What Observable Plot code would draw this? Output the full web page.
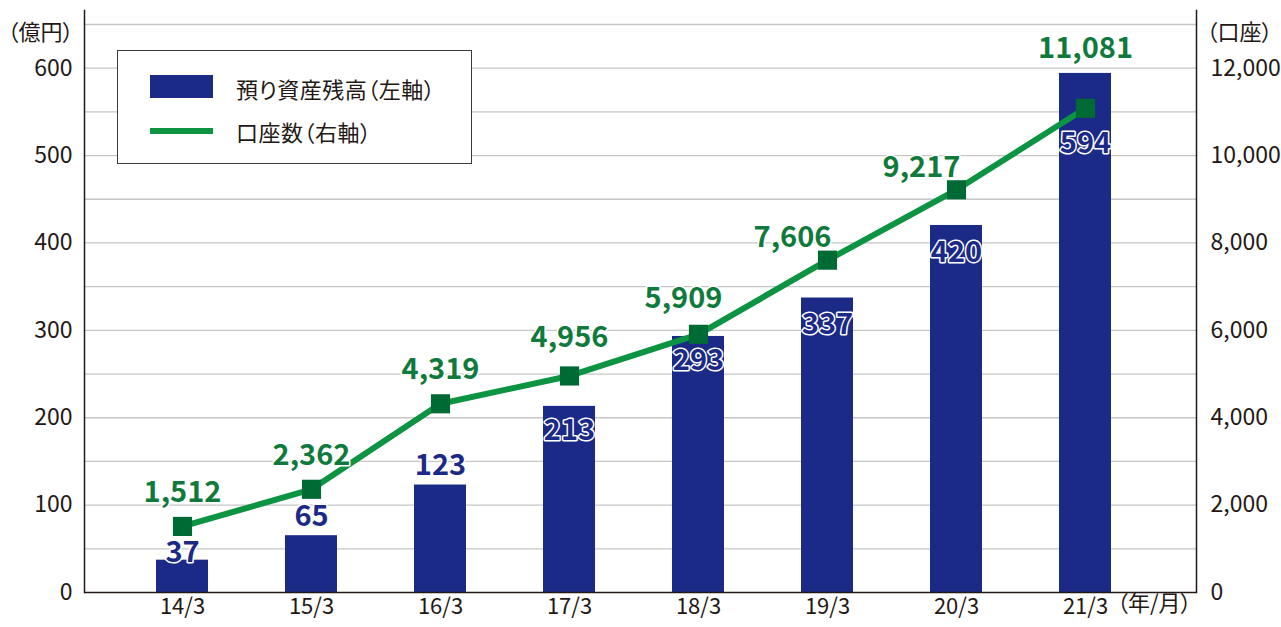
<!DOCTYPE html>
<html><head><meta charset="utf-8">
<script src="https://cdn.jsdelivr.net/npm/d3@7"></script>
<script src="https://cdn.jsdelivr.net/npm/@observablehq/plot@0.6"></script>
<style>
body{margin:0;background:#fff;}
#wrap{position:relative;width:1281px;height:627px;font-family:'Noto Sans CJK JP',sans-serif;color:#231815;}
#legend{position:absolute;left:117px;top:50px;width:355px;height:114px;border:1.3px solid #3a3a3a;background:#fff;box-sizing:border-box;}
.sw{position:absolute;left:32px;width:63px;}
.lt{position:absolute;left:118px;font-size:22px;line-height:22px;color:#231815;white-space:nowrap;font-feature-settings:'palt';letter-spacing:0.5px;}
</style></head>
<body>
<div id="wrap"></div>
<script>
const categories = ["14/3","15/3","16/3","17/3","18/3","19/3","20/3","21/3"];
const assets = [37, 65, 123, 213, 293, 337, 420, 594];          // 億円 (left axis)
const accounts = [1512, 2362, 4319, 4956, 5909, 7606, 9217, 11081]; // 口座 (right axis)
const leftTicks = [0, 100, 200, 300, 400, 500, 600];
const rightTicks = [0, 2000, 4000, 6000, 8000, 10000, 12000];
const gridValues = [50, 100, 150, 200, 250, 300, 350, 400, 450, 500, 550, 600, 650];
const ratio = 20; // right axis / left axis
const legendLabels = ["預り資産残高（左軸）", "口座数（右軸）"];
const unitLeft = "（億円）", unitRight = "（口座）", unitX = "（年/月）";

const NAVY = "#1b2a87", GREEN = "#0c9443", MARK = "#006a34", LGREEN = "#0f7a3c", INK = "#231815";

const data = categories.map((c, i) => ({i, cat: c, assets: assets[i], acc: accounts[i], accY: accounts[i] / ratio}));
const fmt = d3.format(",");

const barLabel = (filter, dy) => Plot.text(data, {filter, x: "cat", y: "assets", text: d => String(d.assets), dy,
  fill: NAVY, stroke: "white", strokeWidth: 3, fontSize: 29, fontWeight: 700});
const accLabel = (filter, dx, dy) => Plot.text(data, {filter, x: "cat", y: "accY", text: d => fmt(d.acc), dx, dy,
  fill: LGREEN, stroke: "white", strokeWidth: 3, fontSize: 29, fontWeight: 700});

const chart = Plot.plot({
  width: 1281, height: 627,
  marginTop: 10, marginBottom: 35, marginLeft: 84, marginRight: 85,
  style: {fontFamily: "'Noto Sans CJK JP', sans-serif", color: INK, background: "white", overflow: "visible"},
  x: {type: "band", domain: categories, paddingInner: 0.6, paddingOuter: 0.6055, align: 0.455, label: null},
  y: {domain: [0, 666], label: null},
  marks: [
    Plot.ruleY(gridValues, {stroke: "#c6c6c6", strokeWidth: 1.3}),
    Plot.barY(data, {x: "cat", y: "assets", fill: NAVY}),
    Plot.line(data, {x: "cat", y: "accY", stroke: GREEN, strokeWidth: 6}),
    Plot.dot(data, {x: "cat", y: "accY", symbol: "square", r: 10.8, fill: MARK}),
    barLabel(d => d.i === 0, -7),
    barLabel(d => d.i === 1 || d.i === 2, -19),
    barLabel(d => d.i === 3 || d.i === 4, 24),
    barLabel(d => d.i === 5 || d.i === 6, 27),
    barLabel(d => d.i === 7, 70),
    accLabel(d => d.i <= 2, 0, -34),
    accLabel(d => d.i === 3, 0, -38),
    accLabel(d => d.i === 4, -15, -36),
    accLabel(d => d.i === 5 || d.i === 6, -35, -22),
    accLabel(d => d.i === 7, 0, -60),
    Plot.ruleY([0], {stroke: INK, strokeWidth: 1.5}),
    Plot.frame({anchor: "left", stroke: INK, strokeWidth: 1.5}),
    Plot.frame({anchor: "right", stroke: INK, strokeWidth: 1.5}),
    Plot.axisY(leftTicks, {anchor: "left", tickSize: 0, tickPadding: 12, fontSize: 23, tickFormat: d => String(d), label: null}),
    Plot.axisY(rightTicks.map(v => v / ratio), {anchor: "right", tickSize: 0, tickPadding: 14, fontSize: 23, tickFormat: d => fmt(d * ratio), label: null}),
    Plot.axisX({tickSize: 0, tickPadding: 6, fontSize: 22, label: null}),
    Plot.text([unitLeft], {frameAnchor: "top-left", textAnchor: "end", dx: -11, dy: 14, fontSize: 22, fill: INK}),
    Plot.text([unitRight], {frameAnchor: "top-right", textAnchor: "start", dx: 10, dy: 14, fontSize: 22, fill: INK}),
    Plot.text([unitX], {frameAnchor: "bottom-right", textAnchor: "end", dx: -5, dy: 18, fontSize: 22, fill: INK})
  ]
});
chart.querySelectorAll("text").forEach(t => t.style.fontFeatureSettings = "'palt'");
const wrap = document.getElementById("wrap");
wrap.appendChild(chart);

const lg = document.createElement("div");
lg.id = "legend";
lg.innerHTML = `<div class="sw" style="top:24px;height:23px;background:${NAVY}"></div>
<div class="lt" style="top:26px">${legendLabels[0]}</div>
<div class="sw" style="top:77px;height:6px;background:${GREEN}"></div>
<div class="lt" style="top:69px">${legendLabels[1]}</div>`;
wrap.appendChild(lg);
</script>
</body></html>
